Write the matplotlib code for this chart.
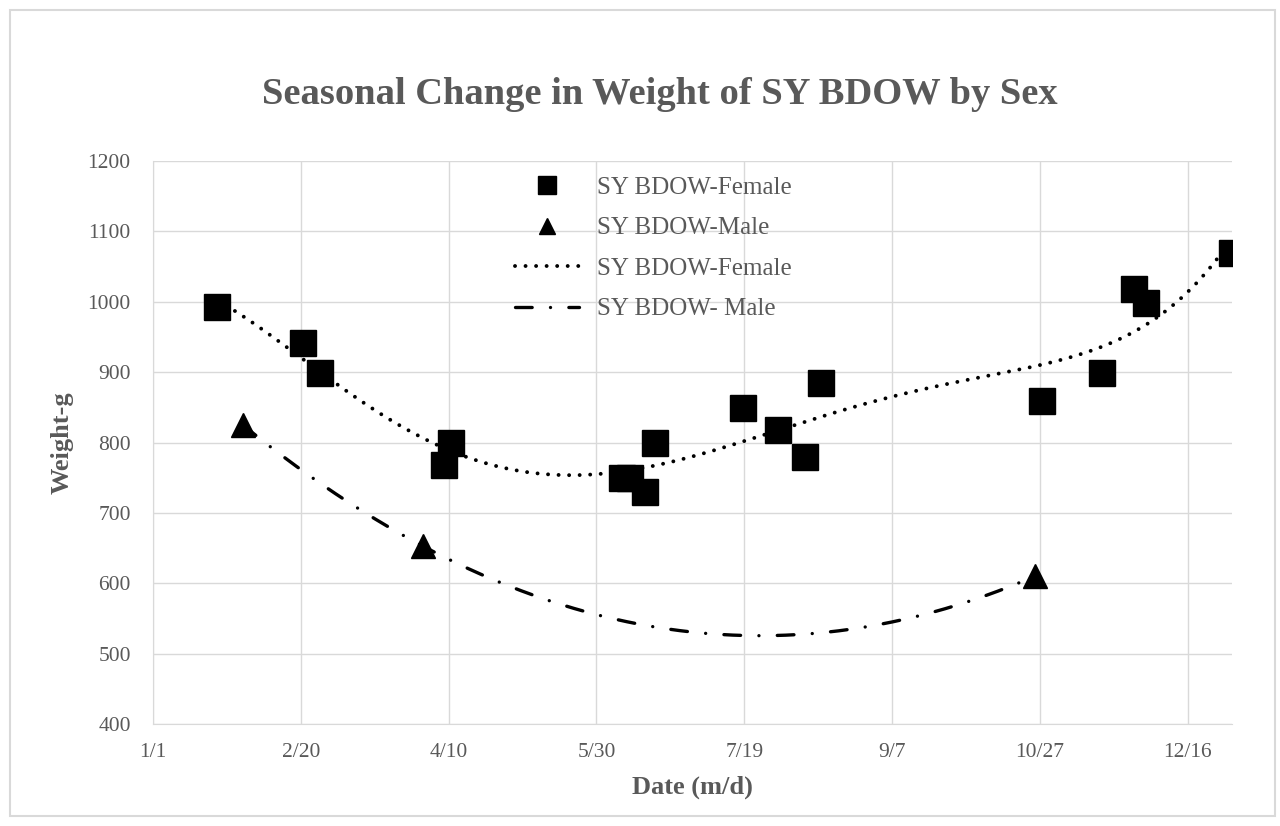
import numpy as np
import matplotlib
matplotlib.use("Agg")
import matplotlib.pyplot as plt
from matplotlib.lines import Line2D
from matplotlib.patches import Rectangle

plt.rcParams['font.family'] = ['Liberation Serif', 'DejaVu Serif']

# day of year (0 = 1/1) and weight in g
female_day = [21.6, 50.7, 56.4, 98.3, 100.7, 158.8, 161.5, 166.6, 169.9,
              199.7, 211.5, 220.6, 226.0, 300.7, 321.0, 332.0, 335.8, 364.9]
female_wt = [993, 942, 899, 768, 800, 749, 749, 729, 799,
             849, 818, 779, 884, 859, 899, 1018, 998, 1069]
male_day = [30.4, 91.2, 298.3]
male_wt = [825, 653, 610]

tick_days = [0, 50, 100, 150, 200, 250, 300, 350]
tick_labels = ["1/1", "2/20", "4/10", "5/30", "7/19", "9/7", "10/27", "12/16"]
y_ticks = [400, 500, 600, 700, 800, 900, 1000, 1100, 1200]

gray = "#595959"
grid = "#d9d9d9"

fig = plt.figure(figsize=(12.8, 8.26), dpi=100)
ax = fig.add_axes([0.1195, 0.1235, 0.843, 0.6815])

# trendlines (polynomial fits like the spreadsheet)
xs = np.array(female_day) / 100.0
cf = np.polyfit(xs, female_wt, 5)
xf = np.linspace(min(female_day), max(female_day), 400)
cm = np.polyfit(male_day, male_wt, 2)
xm = np.linspace(min(male_day), max(male_day), 300)

dot_style = (0, (0.01, 2.7))
dashdot_style = (0, (5, 5.5, 0.01, 5.5))

ax.plot(xf, np.polyval(cf, xf / 100.0), color="black", lw=2.8, linestyle=dot_style,
        dash_capstyle="round", zorder=2)
ax.plot(xm, np.polyval(cm, xm), color="black", lw=2.4, linestyle=dashdot_style,
        dash_capstyle="round", zorder=2)

ax.plot(female_day, female_wt, linestyle="none", marker="s", markersize=19,
        color="black", markeredgewidth=1, zorder=3)
ax.plot(male_day, male_wt, linestyle="none", marker="^", markersize=17,
        color="black", markeredgewidth=1, zorder=3)

ax.set_xlim(0, 365)
ax.set_ylim(400, 1200)
ax.set_xticks(tick_days)
ax.set_xticklabels(tick_labels)
ax.set_yticks(y_ticks)
ax.grid(True, color=grid, lw=1)
ax.set_axisbelow(True)
for s in ["top", "right"]:
    ax.spines[s].set_visible(False)
ax.spines["left"].set_color(grid)
ax.spines["bottom"].set_color(grid)
ax.tick_params(length=0, labelsize=15.5, colors=gray)
ax.tick_params(axis="x", pad=14)
ax.tick_params(axis="y", pad=16)

ax.set_xlabel("Date (m/d)", fontsize=19, fontweight="bold", color=gray, va="center")
ax.set_ylabel("Weight-g", fontsize=19, fontweight="bold", color=gray, va="center")
ax.xaxis.set_label_coords(0.5, -0.112)
ax.yaxis.set_label_coords(-0.084, 0.5)

fig.text(0.5156, 0.886, "Seasonal Change in Weight of SY BDOW by Sex",
         ha="center", va="center", fontsize=27.7, fontweight="bold", color=gray)

handles = [
    Line2D([], [], linestyle="none", marker="s", markersize=13, color="black"),
    Line2D([], [], linestyle="none", marker="^", markersize=11, color="black"),
    Line2D([], [], color="black", lw=2.8, linestyle=dot_style, dash_capstyle="round"),
    Line2D([], [], color="black", lw=2.4, linestyle=dashdot_style, dash_capstyle="round"),
]
labels = ["SY BDOW-Female", "SY BDOW-Male", "SY BDOW-Female", "SY BDOW- Male"]
ax.legend(handles, labels, loc="upper left", bbox_to_anchor=(0.3147, 1.013),
          frameon=False, fontsize=18, labelcolor=gray, handlelength=2.56,
          handletextpad=0.72, labelspacing=0.72)

fig.patches.append(Rectangle((0.008, 0.012), 0.988, 0.976, transform=fig.transFigure,
                             fill=False, edgecolor=grid, lw=1.5))

fig.savefig("out.png", dpi=100)
